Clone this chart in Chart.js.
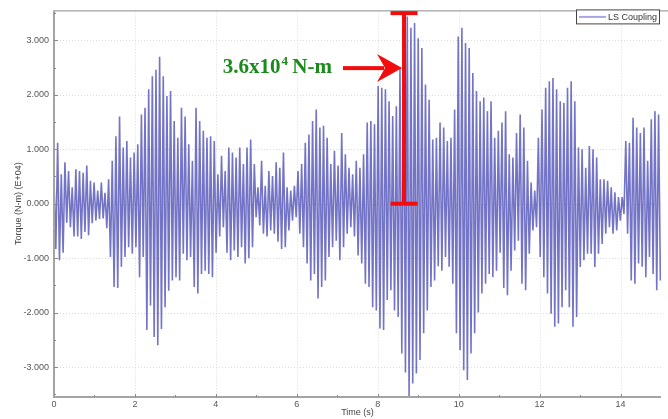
<!DOCTYPE html>
<html>
<head>
<meta charset="utf-8">
<script src="https://cdn.jsdelivr.net/npm/chart.js@4.4.1/dist/chart.umd.min.js"></script>
<style>
  html, body { margin: 0; padding: 0; background: #fff; }
  #wrap { width: 668px; height: 419px; }
</style>
</head>
<body>
<div id="wrap"><canvas id="myChart" width="668" height="419"></canvas></div>
<script>
// LS coupling torque (E+04 N-m), one crest + one trough per cycle
const sampleStep = 0.045 // s between a crest and the following trough
const crests = [
  0.42, 1.12, 0.54, 0.76, 0.6, 0.3, 0.63, 0.6, 0.57, 0.7, 0.42, 0.39, 0.24, 0.39, 0.2, 0.45,
  0.79, 1.24, 1.6, 1.03, 1.15, 0.85, 0.94, 1.09, 1.64, 1.76, 2.1, 2.34, 2.46, 2.7, 2.34, 1.98,
  2.07, 1.52, 1.21, 1.76, 1.6, 1.09, 0.79, 1.76, 1.52, 1.34, 1.21, 1.24, 1.15, 0.54, 0.88, 0.6,
  1.03, 0.94, 0.85, 1.03, 0.73, 1.03, 1.18, 0.73, 0.3, 0.79, 0.33, 0.6, 0.51, 0.76, 0.66, 0.94,
  0.3, 0.24, 0.33, 0.6, 0.73, 1.12, 1.27, 1.52, 1.73, 1.4, 1.43, 1.21, 0.73, 0.97, 0.7, 1.3,
  0.91, 0.66, 0.54, 0.79, 0.66, 0.91, 1.49, 1.52, 1.46, 2.16, 2.13, 2.1, 1.88, 1.61, 1.79, 2.49,
  3.1, 3.44, 3.23, 3.32, 3.04, 2.86, 2.19, 1.91, 1.18, 1.21, 1.49, 1.4, 1.15, 1.21, 1.73, 3.07,
  3.23, 2.95, 2.86, 2.4, 2.07, 1.88, 1.95, 1.7, 1.88, 1.21, 1.34, 1.49, 1.7, 0.91, 0.85, 1.3,
  1.64, 1.4, 0.79, 0.39, 0.24, 1.21, 1.73, 2.13, 2.25, 2.31, 2.1, 1.88, 1.85, 2.13, 2.25, 1.88,
  1.03, 1.0, 0.66, 1.06, 1.0, 0.85, 0.45, 0.45, 0.42, 0.3, 0.21, 0.12, 0.12, 1.15, 1.12, 1.58,
  1.4, 1.3, 1.4, 0.79, 1.55, 1.7, 1.64
]
const troughs = [
  -0.83, -1.04, -0.9, -0.35, -0.43, -0.6, -0.6, -0.65, -0.52, -0.58, -0.36, -0.31, -0.28, -0.27, -0.45, -0.98,
  -1.53, -1.55, -1.16, -0.98, -0.8, -0.92, -0.8, -1.35, -0.98, -2.32, -1.87, -2.45, -2.6, -2.3, -1.9, -1.6,
  -1.41, -1.35, -1.41, -0.92, -1.04, -0.98, -1.53, -1.65, -1.29, -1.23, -1.29, -1.35, -0.9, -0.6, -0.43, -0.9,
  -1.04, -0.86, -0.98, -0.8, -1.1, -1.0, -0.8, -0.25, -0.4, -0.55, -0.6, -0.49, -0.55, -0.7, -0.83, -0.8,
  -0.49, -0.31, -0.25, -0.55, -0.8, -1.1, -1.41, -1.29, -1.74, -1.53, -1.41, -0.98, -0.8, -0.68, -1.04, -0.8,
  -0.55, -0.43, -0.6, -0.95, -1.1, -1.47, -1.53, -1.9, -1.96, -2.29, -2.32, -1.77, -1.59, -1.96, -2.08, -2.75,
  -3.1, -3.54, -3.3, -3.12, -2.87, -2.38, -1.96, -1.53, -1.41, -1.15, -1.23, -0.98, -1.16, -1.47, -2.38, -2.69,
  -3.06, -3.24, -2.75, -2.38, -2.0, -1.65, -1.47, -1.29, -1.35, -1.23, -0.9, -1.55, -1.68, -1.23, -0.86, -0.68,
  -1.47, -1.59, -0.92, -0.49, -0.43, -0.98, -1.35, -1.65, -2.02, -2.26, -2.2, -1.9, -1.59, -1.9, -2.26, -2.08,
  -1.16, -1.04, -0.92, -0.92, -1.16, -0.92, -0.74, -0.55, -0.43, -0.55, -0.49, -0.31, -0.19, -0.55, -1.41, -1.47,
  -1.1, -1.16, -1.35, -0.98, -1.29, -1.59, -1.41
]
const xTickValues = [0, 2, 4, 6, 8, 10, 12, 14]
const yTickValues = [-3, -2, -1, 0, 1, 2, 3]
const seriesLabel = 'LS Coupling'

// annotation, in data units
const spanTime = 8.65
const spanBottom = 0
const spanTop = 3.5
const arrowLevel = 2.49
const arrowFrom = 7.14
const arrowTo = 8.6
const noteRightTime = 6.87
const noteLevel = 2.4

const points = []
crests.forEach((c, i) => {
  points.push({x: 2 * i * sampleStep, y: c})
  points.push({x: (2 * i + 1) * sampleStep, y: troughs[i]})
})

const tickFont = {family: 'Liberation Sans', size: 9}

const overlay = {
  id: 'overlay',
  beforeDatasetsDraw(chart) {
    const {ctx, chartArea: a, scales: {x, y}} = chart
    ctx.save()
    ctx.strokeStyle = '#dadada'
    ctx.lineWidth = 1
    ctx.setLineDash([1, 2])
    xTickValues.forEach(v => {
      if (v === 0) return
      const px = Math.round(x.getPixelForValue(v)) + 0.5
      ctx.beginPath(); ctx.moveTo(px, a.top); ctx.lineTo(px, a.bottom); ctx.stroke()
    })
    yTickValues.forEach(v => {
      const py = Math.round(y.getPixelForValue(v)) + 0.5
      ctx.beginPath(); ctx.moveTo(a.left, py); ctx.lineTo(a.right, py); ctx.stroke()
    })
    ctx.restore()
  },
  afterDatasetsDraw(chart) {
    const {ctx, chartArea: a, scales: {x, y}} = chart
    ctx.save()
    // frame
    ctx.strokeStyle = '#8c8c8c'
    ctx.lineWidth = 1
    ctx.beginPath(); ctx.moveTo(a.left, a.top + 0.5); ctx.lineTo(chart.width, a.top + 0.5); ctx.stroke()
    ctx.strokeStyle = '#a4a4a4'
    ctx.lineWidth = 2
    ctx.beginPath(); ctx.moveTo(a.left, a.top); ctx.lineTo(a.left, a.bottom); ctx.lineTo(a.right, a.bottom); ctx.stroke()
    // inner tick marks
    ctx.strokeStyle = '#888'
    ctx.lineWidth = 1
    for (let v = -3.5; v <= 3.5; v += 0.5) {
      const py = Math.round(y.getPixelForValue(v)) + 0.5
      const len = Number.isInteger(v) ? 4 : 2
      ctx.beginPath(); ctx.moveTo(a.left, py); ctx.lineTo(a.left + len, py); ctx.stroke()
    }
    for (let v = 1; v < 15; v++) {
      const px = Math.round(x.getPixelForValue(v)) + 0.5
      const len = v % 2 === 0 ? 3 : 2
      ctx.beginPath(); ctx.moveTo(px, a.bottom); ctx.lineTo(px, a.bottom - len); ctx.stroke()
    }

    // legend box
    const bx = a.right - 85, by = a.top - 1, bw = 83, bh = 14
    ctx.fillStyle = '#fff'
    ctx.fillRect(bx, by, bw, bh)
    ctx.strokeStyle = '#444'
    ctx.strokeRect(bx + 0.5, by + 0.5, bw, bh)
    ctx.strokeStyle = '#a6a6e2'
    ctx.lineWidth = 2
    ctx.beginPath(); ctx.moveTo(bx + 3, by + 7.5); ctx.lineTo(bx + 30, by + 7.5); ctx.stroke()
    ctx.fillStyle = '#333'
    ctx.font = '9px "Liberation Sans"'
    ctx.textBaseline = 'middle'
    ctx.textAlign = 'left'
    ctx.fillText(seriesLabel, bx + 32, by + 8)

    // red span marker
    const sx = x.getPixelForValue(spanTime)
    const sTop = y.getPixelForValue(spanTop)
    const sBot = y.getPixelForValue(spanBottom)
    ctx.fillStyle = '#f20d0d'
    ctx.fillRect(sx - 2, sTop, 4, sBot - sTop)
    ctx.fillRect(sx - 13.5, sTop - 2, 27, 4)
    ctx.fillRect(sx - 13.5, sBot - 2, 27, 4)

    // arrow
    const ay = y.getPixelForValue(arrowLevel)
    const ax0 = x.getPixelForValue(arrowFrom)
    const ax1 = x.getPixelForValue(arrowTo)
    ctx.fillRect(ax0, ay - 2, ax1 - ax0 - 18, 4)
    ctx.beginPath()
    ctx.moveTo(ax1, ay)
    ctx.lineTo(ax1 - 25, ay - 14)
    ctx.lineTo(ax1 - 17, ay)
    ctx.lineTo(ax1 - 25, ay + 14)
    ctx.closePath()
    ctx.fill()

    // note text with superscript
    const big = 'bold 21px "Liberation Serif"'
    const small = 'bold 13px "Liberation Serif"'
    ctx.fillStyle = '#1a8a1a'
    ctx.textBaseline = 'alphabetic'
    ctx.font = big
    const w1 = ctx.measureText('3.6x10').width
    const w3 = ctx.measureText(' N-m').width
    ctx.font = small
    const w2 = ctx.measureText('4').width
    let tx = x.getPixelForValue(noteRightTime) - (w1 + w2 + w3)
    const ty = y.getPixelForValue(noteLevel)
    ctx.font = big
    ctx.fillText('3.6x10', tx, ty)
    ctx.font = small
    ctx.fillText('4', tx + w1 + 1, ty - 8)
    ctx.font = big
    ctx.fillText(' N-m', tx + w1 + w2, ty)
    ctx.restore()
  }
}

const ctx = document.getElementById('myChart')

new Chart(ctx, {
  type: 'line',
  data: {
    datasets: [{
      label: seriesLabel,
      data: points,
      borderColor: 'rgba(62, 62, 176, 0.72)',
      borderWidth: 1.6,
      pointRadius: 0,
      tension: 0,
      fill: false
    }]
  },
  options: {
    responsive: false,
    animation: false,
    parsing: false,
    normalized: true,
    layout: {padding: {top: 9, right: 7, left: 0, bottom: 0}},
    plugins: {legend: {display: false}, tooltip: {enabled: false}},
    scales: {
      x: {
        type: 'linear',
        min: 0,
        max: 15,
        afterBuildTicks: s => { s.ticks = xTickValues.map(v => ({value: v})) },
        afterFit: s => { s.height = 22 },
        grid: {display: false, drawTicks: false},
        border: {display: false},
        ticks: {font: tickFont, color: '#555', padding: 2, maxRotation: 0, callback: v => String(v)},
        title: {display: true, text: 'Time (s)', font: tickFont, color: '#444', padding: {top: 0, bottom: 1}}
      },
      y: {
        type: 'linear',
        min: -3.55,
        max: 3.55,
        afterBuildTicks: s => { s.ticks = yTickValues.map(v => ({value: v})) },
        afterFit: s => { s.width = 54 },
        grid: {display: false, drawTicks: false},
        border: {display: false},
        ticks: {font: tickFont, color: '#555', padding: 5, callback: v => v.toFixed(3)},
        title: {display: true, text: 'Torque (N-m) (E+04)', font: tickFont, color: '#444', padding: {top: 13, bottom: 0}}
      }
    }
  },
  plugins: [overlay]
})
</script>
</body>
</html>
